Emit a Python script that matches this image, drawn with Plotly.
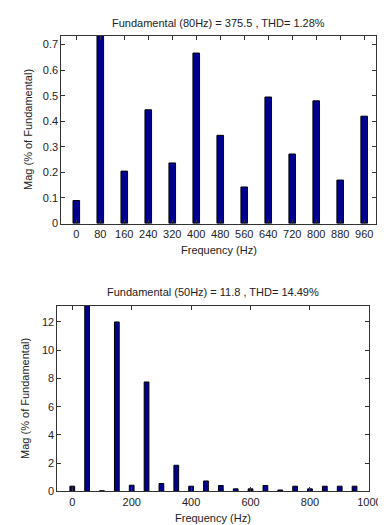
import plotly.graph_objects as go

# Top spectrum (80 Hz fundamental)
freq_top = [0, 80, 160, 240, 320, 400, 480, 560, 640, 720, 800, 880, 960]
mag_top = [0.09, 100.0, 0.205, 0.445, 0.237, 0.667, 0.345, 0.143, 0.495, 0.272, 0.48, 0.17, 0.42]
title_top = "Fundamental (80Hz) = 375.5 , THD= 1.28%"

# Bottom spectrum (50 Hz fundamental)
freq_bot = [0, 50, 100, 150, 200, 250, 300, 350, 400, 450, 500, 550, 600, 650, 700, 750, 800, 850, 900, 950]
mag_bot = [0.37, 100.0, 0.05, 12.0, 0.44, 7.75, 0.56, 1.85, 0.37, 0.74, 0.42, 0.18, 0.18, 0.42, 0.1, 0.37, 0.18, 0.37, 0.37, 0.37]
title_bot = "Fundamental (50Hz) = 11.8 , THD= 14.49%"

xlabel = "Frequency (Hz)"
ylabel = "Mag (% of Fundamental)"

W, H = 386, 525
BAR = "#00008F"
FONT = "Liberation Sans, Arial, sans-serif"

fig = go.Figure()
fig.add_trace(go.Bar(x=freq_top, y=mag_top, width=22, marker=dict(color=BAR, line=dict(color="black", width=1)),
                     xaxis="x", yaxis="y"))
fig.add_trace(go.Bar(x=freq_bot, y=mag_bot, width=16, marker=dict(color=BAR, line=dict(color="black", width=1)),
                     xaxis="x2", yaxis="y2"))

def px(v):
    return v / W

def py(v):
    return 1 - v / H

axis_common = dict(showline=True, linecolor="#333333", linewidth=1, mirror="ticks", ticks="inside",
                   ticklen=4, tickcolor="#333333", showgrid=False, zeroline=False,
                   tickfont=dict(family=FONT, size=11, color="#222222"))

top_l, top_r, top_t, top_b = 55, 380, 28, 218
bot_l, bot_r, bot_t, bot_b = 51, 373, 301, 489

fig.update_layout(
    width=W, height=H, margin=dict(l=0, r=0, t=0, b=0),
    paper_bgcolor="white", plot_bgcolor="white", showlegend=False,
    font=dict(family=FONT, size=11, color="#222222"),
    xaxis=dict(domain=[px(top_l), px(top_r)], range=[-50, 1000], tickvals=freq_top,
               anchor="y", **axis_common),
    yaxis=dict(domain=[py(top_b), py(top_t)], range=[0, 0.735], tickvals=[0, 0.1, 0.2, 0.3, 0.4, 0.5, 0.6, 0.7],
               anchor="x", **axis_common),
    xaxis2=dict(domain=[px(bot_l), px(bot_r)], range=[-50, 1000], tickvals=[0, 200, 400, 600, 800, 1000],
                anchor="y2", **axis_common),
    yaxis2=dict(domain=[py(bot_b), py(bot_t)], range=[0, 13.16], tickvals=[0, 2, 4, 6, 8, 10, 12],
                anchor="x2", **axis_common),
)

ann = []
ann.append(dict(text=title_top, x=px((top_l + top_r) / 2), y=py(15), xref="paper", yref="paper",
                showarrow=False, xanchor="center", yanchor="middle", font=dict(size=11)))
ann.append(dict(text=title_bot, x=px((bot_l + bot_r) / 2), y=py(287), xref="paper", yref="paper",
                showarrow=False, xanchor="center", yanchor="middle", font=dict(size=11)))
ann.append(dict(text=xlabel, x=px((top_l + top_r) / 2), y=py(245), xref="paper", yref="paper",
                showarrow=False, xanchor="center", yanchor="middle", font=dict(size=11)))
ann.append(dict(text=xlabel, x=px((bot_l + bot_r) / 2), y=py(516), xref="paper", yref="paper",
                showarrow=False, xanchor="center", yanchor="middle", font=dict(size=11)))
ann.append(dict(text=ylabel, x=px(20), y=py((top_t + top_b) / 2), xref="paper", yref="paper",
                showarrow=False, xanchor="center", yanchor="middle", textangle=-90, font=dict(size=11)))
ann.append(dict(text=ylabel, x=px(18), y=py((bot_t + bot_b) / 2), xref="paper", yref="paper",
                showarrow=False, xanchor="center", yanchor="middle", textangle=-90, font=dict(size=11)))
fig.update_layout(annotations=ann)

fig.write_html("out.html")
